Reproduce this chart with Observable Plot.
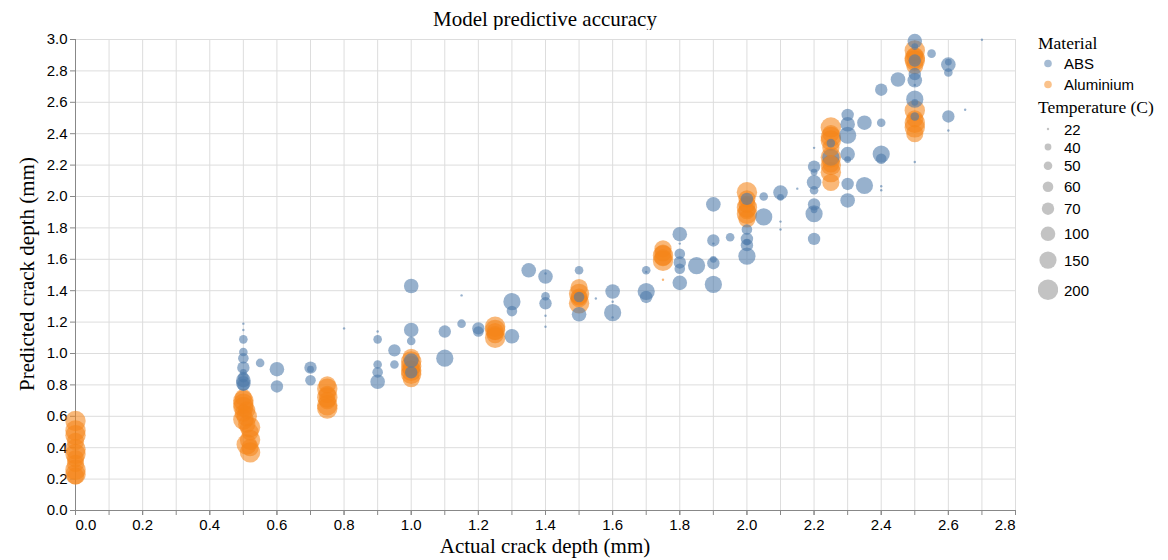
<!DOCTYPE html>
<html><head><meta charset="utf-8">
<script src="https://cdn.jsdelivr.net/npm/d3@7"></script>
<script src="https://cdn.jsdelivr.net/npm/@observablehq/plot@0.6"></script>
<style>
body{margin:0;background:#fff;}
#wrap{position:relative;width:1168px;height:560px;overflow:hidden;}
#title{position:absolute;left:0;top:6px;width:1090px;text-align:center;font:21px "Liberation Serif",serif;color:#000;line-height:26px;}
#chart{position:absolute;left:0;top:30px;}
#xtitle{position:absolute;left:0;top:533px;width:1090px;text-align:center;font:21px "Liberation Serif",serif;line-height:26px;}
#ytitle{position:absolute;left:27px;top:274px;width:400px;margin-left:-200px;text-align:center;font:21px "Liberation Serif",serif;line-height:26px;transform:translateY(-13px) rotate(-90deg);}
#legend{position:absolute;left:1038px;top:33px;font-family:"Liberation Sans",sans-serif;color:#000;}
.lt{font:17.5px "Liberation Serif",serif;line-height:20px;height:20px;white-space:nowrap;}
.row{display:flex;align-items:center;font-size:15px;line-height:17px;}
.row svg{display:block;}
</style></head><body>
<div id="wrap">
<div id="title">Model predictive accuracy</div>
<div id="chart"></div>
<div id="xtitle">Actual crack depth (mm)</div>
<div id="ytitle">Predicted crack depth (mm)</div>
<div id="legend"></div>
</div>
<script>
// ---- data ----
const materials = ["ABS", "Aluminium"];
const materialColors = ["#4c78a8", "#f58518"];
const temperatures = [22, 40, 50, 60, 70, 100, 150, 200];
const temperatureRadii = [1.2, 3.4, 4.3, 5.3, 6.2, 7.3, 8.6, 10.2];

const absActual = [
  0.5,0.5,0.5,0.5,0.5,0.5,0.5,0.5,0.5,0.5,0.5,
  0.55,0.6,0.6,0.7,0.7,0.7,0.8,
  0.9,0.9,0.9,0.9,0.9,0.95,0.95,
  1.0,1.0,1.0,1.0,1.0,
  1.1,1.1,1.15,1.15,1.2,1.2,
  1.3,1.3,1.3,1.35,
  1.4,1.4,1.4,1.4,1.4,1.4,
  1.5,1.5,1.5,1.55,
  1.6,1.6,1.6,1.6,
  1.7,1.7,1.7,1.7,
  1.8,1.8,1.8,1.8,1.8,1.8,1.85,
  1.9,1.9,1.9,1.9,1.9,1.9,1.95,
  2.0,2.0,2.0,2.0,2.0,2.0,
  2.05,2.05,2.1,2.1,2.1,2.1,2.15,
  2.2,2.2,2.2,2.2,2.2,2.2,2.2,2.2,2.2,
  2.25,2.25,
  2.3,2.3,2.3,2.3,2.3,2.3,2.3,
  2.35,2.35,
  2.4,2.4,2.4,2.4,2.4,2.4,
  2.45,
  2.5,2.5,2.5,2.5,2.5,2.5,2.5,2.5,2.5,2.5,
  2.55,
  2.6,2.6,2.6,2.6,2.6,
  2.65,2.7
];
const absPredicted = [
  1.19,1.15,1.09,1.01,0.97,0.91,0.88,0.85,0.83,0.81,0.80,
  0.94,0.90,0.79,0.91,0.90,0.83,1.16,
  1.14,1.09,0.93,0.88,0.82,1.02,0.93,
  1.43,1.15,1.08,0.955,0.88,
  1.14,0.97,1.37,1.19,1.16,1.14,
  1.33,1.27,1.11,1.53,
  1.51,1.49,1.365,1.32,1.24,1.17,
  1.53,1.36,1.25,1.35,
  1.395,1.33,1.26,1.23,
  1.53,1.52,1.395,1.36,
  1.76,1.70,1.635,1.58,1.54,1.45,1.56,
  1.95,1.72,1.70,1.60,1.575,1.44,1.74,
  1.985,1.79,1.73,1.71,1.69,1.62,
  2.0,1.87,2.025,1.995,1.84,1.79,2.05,
  2.31,2.19,2.155,2.09,2.04,1.95,1.915,1.89,1.73,
  2.34,2.25,
  2.52,2.46,2.39,2.27,2.235,2.08,1.975,
  2.47,2.07,
  2.68,2.47,2.27,2.24,2.065,2.04,
  2.745,
  2.99,2.955,2.866,2.78,2.74,2.71,2.62,2.60,2.51,2.22,
  2.91,
  2.856,2.84,2.79,2.51,2.42,
  2.553,2.998
];
const absTemperature = [
  22,22,50,50,60,70,40,60,100,100,70,
  50,100,70,70,40,60,22,
  22,50,50,60,100,70,50,
  100,100,50,100,70,
  70,150,22,50,70,60,
  150,60,100,100,
  22,100,50,70,22,22,
  50,60,100,22,
  100,22,150,22,
  50,22,150,70,
  100,22,60,70,60,100,150,
  100,70,22,40,70,150,50,
  70,60,70,40,70,150,
  50,150,100,40,22,22,22,
  22,70,40,100,50,70,40,150,70,
  50,150,
  70,100,150,100,40,70,100,
  100,150,
  70,50,150,60,22,22,
  100,
  100,40,70,70,100,22,150,40,50,22,
  50,
  40,100,50,70,22,
  22,22
];

const aluActual = [
  0,0,0,0,0,0,0,0,0,0,0,
  0.5,0.5,0.5,0.5,0.5,0.51,0.52,0.52,0.51,0.52,0.52,0.5,0.51,0.52,0.51,
  0.75,0.75,0.75,0.75,0.75,0.75,0.75,
  1.0,1.0,1.0,1.0,1.0,1.0,1.0,
  1.25,1.25,1.25,1.25,1.25,
  1.5,1.5,1.5,1.5,1.5,
  1.75,1.75,1.75,1.75,1.75,1.75,
  2.0,2.0,2.0,2.0,2.0,2.0,2.0,
  2.25,2.25,2.25,2.25,2.25,2.25,2.25,2.25,2.25,2.25,
  2.5,2.5,2.5,2.5,2.5,2.5,2.5,2.5,2.5,2.5
];
const aluPredicted = [
  0.57,0.51,0.48,0.44,0.39,0.36,0.33,0.30,0.26,0.23,0.22,
  0.72,0.70,0.66,0.62,0.58,0.55,0.53,0.50,0.42,0.40,0.37,0.68,0.64,0.45,0.60,
  0.80,0.776,0.74,0.72,0.70,0.67,0.65,
  0.976,0.95,0.92,0.90,0.89,0.87,0.84,
  1.17,1.15,1.14,1.12,1.10,
  1.42,1.38,1.36,1.35,1.32,
  1.667,1.64,1.624,1.61,1.59,1.47,
  2.027,1.985,1.95,1.93,1.91,1.89,1.858,
  2.44,2.40,2.38,2.357,2.31,2.25,2.208,2.20,2.155,2.09,
  2.93,2.898,2.88,2.866,2.834,2.548,2.495,2.47,2.44,2.40
];
const aluTemperature = [
  200,200,200,150,200,200,150,150,200,200,150,
  150,200,200,150,200,150,200,150,200,150,200,200,150,200,200,
  150,200,150,200,150,200,200,
  150,200,200,150,200,200,150,
  200,200,150,150,200,
  150,200,150,150,200,
  150,150,200,150,200,22,
  200,150,150,200,150,200,150,
  200,150,200,200,150,200,150,200,200,150,
  200,150,200,200,150,200,150,200,200,150
];

// axis ticks
const xGridTicks = [0,0.1,0.2,0.3,0.4,0.5,0.6,0.7,0.8,0.9,1.0,1.1,1.2,1.3,1.4,1.5,1.6,1.7,1.8,1.9,2.0,2.1,2.2,2.3,2.4,2.5,2.6,2.7,2.8];
const xLabelTicks = [0.2,0.4,0.6,0.8,1.0,1.2,1.4,1.6,1.8,2.0,2.2,2.4,2.6];
const xFirstTick = [0.0];
const xLastTick = [2.8];
const yTicks = [0,0.2,0.4,0.6,0.8,1.0,1.2,1.4,1.6,1.8,2.0,2.2,2.4,2.6,2.8,3.0];

// ---- build table ----
const points = [];
absActual.forEach((v, i) => points.push({material: materials[0], actual: v, predicted: absPredicted[i], temperature: absTemperature[i]}));
aluActual.forEach((v, i) => points.push({material: materials[1], actual: v, predicted: aluPredicted[i], temperature: aluTemperature[i]}));

const axisColor = "#888";
const chart = Plot.plot({
  width: 1030,
  height: 530,
  marginLeft: 75,
  marginRight: 15,
  marginTop: 9,
  marginBottom: 50,
  style: {fontFamily: "'Liberation Sans', Arial, sans-serif", fontSize: "15px", color: "#000", background: "#fff"},
  x: {domain: [0, 2.8], axis: null},
  y: {domain: [0, 3.0], axis: null},
  r: {type: "linear", domain: temperatures, range: temperatureRadii},
  color: {domain: materials, range: materialColors},
  marks: [
    Plot.gridX(xGridTicks, {stroke: "#ddd", strokeOpacity: 1}),
    Plot.gridY(yTicks, {stroke: "#ddd", strokeOpacity: 1}),
    Plot.axisX(xGridTicks, {label: null, tickSize: 5, tickFormat: () => "", stroke: axisColor}),
    Plot.axisX(xLabelTicks, {label: null, tickSize: 5, tickPadding: 4, tickFormat: ".1f", stroke: axisColor, fill: "#000"}),
    Plot.axisX(xFirstTick, {label: null, tickSize: 5, tickPadding: 4, tickFormat: ".1f", textAnchor: "start", stroke: axisColor, fill: "#000"}),
    Plot.axisX(xLastTick, {label: null, tickSize: 5, tickPadding: 4, tickFormat: ".1f", textAnchor: "end", stroke: axisColor, fill: "#000"}),
    Plot.axisY(yTicks, {label: null, tickSize: 5, tickPadding: 3, tickFormat: ".1f", stroke: axisColor, fill: "#000"}),
    Plot.ruleY([0], {stroke: axisColor}),
    Plot.ruleX([0], {stroke: axisColor}),
    Plot.dot(points, {x: "actual", y: "predicted", r: "temperature", fill: "material", fillOpacity: 0.58, stroke: "none"})
  ]
});
document.getElementById("chart").appendChild(chart);

// ---- legend ----
const colorScale = chart.scale("color");
const rScale = chart.scale("r");
const legend = document.getElementById("legend");
function addTitle(t, mt) {
  const d = document.createElement("div");
  d.className = "lt"; d.textContent = t; d.style.marginTop = mt + "px";
  legend.appendChild(d);
}
function addRow(r, fill, opacity, label, h, mt) {
  const row = document.createElement("div");
  row.className = "row"; row.style.height = h + "px"; row.style.marginTop = (mt || 0) + "px";
  row.innerHTML = `<svg width="20" height="${h}"><circle cx="10" cy="${h/2}" r="${r}" fill="${fill}" fill-opacity="${opacity}"></circle></svg><span style="margin-left:6px">${label}</span>`;
  legend.appendChild(row);
}
addTitle("Material", 0);
materials.forEach(m => addRow(3.8, colorScale.apply(m), 0.5, m, 21));
addTitle("Temperature (C)", 2);
temperatures.forEach((t, i) => {
  const r = rScale.apply(t);
  addRow(r, "#888", 0.5, String(t), Math.max(18, 2 * r + 11), i === 0 ? 3 : 0);
});
</script>
</body></html>
